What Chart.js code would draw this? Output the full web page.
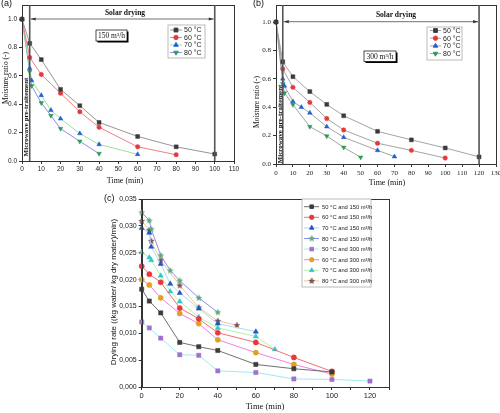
<!DOCTYPE html>
<html>
<head>
<meta charset="utf-8">
<script src="https://cdn.jsdelivr.net/npm/chart.js@4.4.1/dist/chart.umd.min.js"></script>
<style>
html, body { margin: 0; padding: 0; background: #fff; }
#wrap { position: relative; width: 500px; height: 413px; overflow: hidden; }
canvas { position: absolute; left: 0; top: 0; }
</style>
</head>
<body>
<div id="wrap">
  <canvas id="chartA" width="500" height="413"></canvas>
  <canvas id="chartB" width="500" height="413"></canvas>
  <canvas id="chartC" width="500" height="413"></canvas>
</div>
<script>
// ---- data ----
const tempLabels = ['50 °C', '60 °C', '70 °C', '80 °C'];

// (a) moisture ratio, 150 m3/h
const timeA50 = [0, 4, 10, 20, 30, 40, 60, 80, 100];
const mrA50 = [1.0, 0.83, 0.715, 0.505, 0.39, 0.272, 0.173, 0.10, 0.049];
const timeA60 = [0, 4, 10, 20, 30, 40, 60, 80];
const mrA60 = [1.0, 0.73, 0.61, 0.478, 0.347, 0.238, 0.10, 0.044];
const timeA70 = [0, 4, 5, 10, 15, 20, 30, 40, 60];
const mrA70 = [1.0, 0.654, 0.568, 0.463, 0.358, 0.298, 0.194, 0.117, 0.047];
const timeA80 = [0, 4, 5, 10, 15, 20, 30, 40];
const mrA80 = [1.0, 0.63, 0.53, 0.41, 0.32, 0.228, 0.139, 0.052];

// (b) moisture ratio, 300 m3/h
const timeB50 = [0, 4, 10, 20, 30, 40, 60, 80, 100, 120];
const mrB50 = [1.0, 0.72, 0.615, 0.51, 0.42, 0.34, 0.23, 0.17, 0.113, 0.05];
const timeB60 = [0, 4, 10, 20, 30, 40, 60, 80, 100];
const mrB60 = [1.0, 0.67, 0.54, 0.434, 0.32, 0.24, 0.146, 0.096, 0.042];
const timeB70 = [0, 4, 5, 10, 15, 20, 30, 40, 60, 70];
const mrB70 = [1.0, 0.60, 0.55, 0.44, 0.40, 0.36, 0.263, 0.188, 0.096, 0.052];
const timeB80 = [0, 4, 5, 10, 20, 30, 40, 50];
const mrB80 = [1.0, 0.566, 0.50, 0.418, 0.263, 0.197, 0.117, 0.047];

// (c) drying rate
const rateLabels = [
  '50 °C and 150 m³/h', '60 °C and 150 m³/h', '70 °C and 150 m³/h', '80 °C and 150 m³/h',
  '50 °C and 300 m³/h', '60 °C and 300 m³/h', '70 °C and 300 m³/h', '80 °C and 300 m³/h'
];
const timeC1 = [0, 4, 10, 20, 30, 40, 60, 80, 100];
const rateC1 = [0.0182, 0.0160, 0.0138, 0.0083, 0.0075, 0.0068, 0.0042, 0.0034, 0.0028];
const timeC2 = [0, 4, 10, 20, 30, 40, 60, 80, 100];
const rateC2 = [0.0225, 0.0210, 0.0195, 0.0147, 0.0127, 0.0101, 0.0083, 0.0055, 0.0029];
const timeC3 = [0, 4, 5, 10, 15, 20, 30, 40, 60];
const rateC3 = [0.0296, 0.0287, 0.0261, 0.0229, 0.0192, 0.0175, 0.0146, 0.0118, 0.0103];
const timeC4 = [0, 4, 5, 10, 15, 20, 30, 40];
const rateC4 = [0.0325, 0.0310, 0.0294, 0.0245, 0.0217, 0.0198, 0.0166, 0.0139];
const timeC5 = [0, 4, 10, 20, 30, 40, 60, 80, 100, 120];
const rateC5 = [0.0121, 0.0110, 0.0091, 0.0060, 0.0059, 0.0030, 0.0027, 0.0015, 0.0014, 0.0011];
const timeC6 = [0, 4, 10, 20, 30, 40, 60, 80, 100];
const rateC6 = [0.0200, 0.0190, 0.0166, 0.0137, 0.0118, 0.0088, 0.0064, 0.0042, 0.0024];
const timeC7 = [0, 4, 5, 10, 15, 20, 30, 40, 60, 70];
const rateC7 = [0.0251, 0.0241, 0.0236, 0.0207, 0.0178, 0.0159, 0.0130, 0.0110, 0.0094, 0.0070];
const timeC8 = [0, 4, 5, 10, 20, 30, 40, 50];
const rateC8 = [0.0309, 0.0292, 0.0272, 0.0236, 0.0189, 0.0148, 0.0123, 0.0115];

// ---- styles ----
const SANS = '"Liberation Sans", Arial, sans-serif';
const SERIF = '"Liberation Serif", "Times New Roman", serif';
const AXIS = '#333';

function starImage(color, r) {
  const c = document.createElement('canvas');
  const s = Math.ceil(r * 2 + 2);
  c.width = s; c.height = s;
  const g = c.getContext('2d');
  g.translate(s / 2, s / 2);
  g.beginPath();
  for (let i = 0; i < 10; i++) {
    const rad = i % 2 ? r * 0.45 : r;
    const ang = -Math.PI / 2 + i * Math.PI / 5;
    g.lineTo(rad * Math.cos(ang), rad * Math.sin(ang));
  }
  g.closePath();
  g.fillStyle = color;
  g.fill();
  return c;
}

function marker(shape, color, r) {
  const m = { pointBackgroundColor: color, pointBorderColor: color, pointBorderWidth: 0.5, pointRadius: r, pointHoverRadius: r };
  if (shape === 'square') { m.pointStyle = 'rect'; m.pointRadius = r * 1.25; }
  if (shape === 'circle') m.pointStyle = 'circle';
  if (shape === 'up') { m.pointStyle = 'triangle'; m.pointRadius = r * 1.2; }
  if (shape === 'down') { m.pointStyle = 'triangle'; m.pointRotation = 180; m.pointRadius = r * 1.2; }
  if (shape === 'star') { m.pointStyle = starImage(color, r * 1.4); m.pointBorderWidth = 0; }
  return m;
}

function series(label, t, v, lineColor, mk) {
  return Object.assign({
    label: label,
    data: t.map((x, i) => ({ x: x, y: v[i] })),
    borderColor: lineColor,
    borderWidth: 0.9,
    tension: 0,
    clip: false
  }, mk);
}

function fixY(width) {
  return function (s) { s.width = width; s.paddingTop = 0; s.paddingBottom = 0; };
}
function fixX(height) {
  return function (s) { s.height = height; s.paddingLeft = 0; s.paddingRight = 0; };
}

function drawText(ctx, t) {
  ctx.save();
  ctx.font = t.font;
  ctx.fillStyle = t.color || '#111';
  ctx.textAlign = t.align || 'center';
  ctx.textBaseline = 'middle';
  ctx.translate(t.x, t.y);
  if (t.rot) ctx.rotate(t.rot);
  ctx.fillText(t.text, 0, 0);
  ctx.restore();
}

function drawPhase(chart, p) {
  const { ctx, chartArea: a, scales: { x } } = chart;
  const x1 = x.getPixelForValue(p.start), x2 = x.getPixelForValue(p.end);
  ctx.save();
  ctx.strokeStyle = '#555';
  ctx.lineWidth = 1.6;
  [x1, x2].forEach(px => {
    ctx.beginPath(); ctx.moveTo(px, a.top); ctx.lineTo(px, a.bottom); ctx.stroke();
  });
  ctx.strokeStyle = '#333';
  ctx.fillStyle = '#333';
  ctx.lineWidth = 0.7;
  ctx.beginPath(); ctx.moveTo(x1 + 1, p.arrowY); ctx.lineTo(x2 - 1, p.arrowY); ctx.stroke();
  ctx.beginPath(); ctx.moveTo(x1 + 1, p.arrowY); ctx.lineTo(x1 + 6, p.arrowY - 1.6); ctx.lineTo(x1 + 6, p.arrowY + 1.6); ctx.fill();
  ctx.beginPath(); ctx.moveTo(x2 - 1, p.arrowY); ctx.lineTo(x2 - 6, p.arrowY - 1.6); ctx.lineTo(x2 - 6, p.arrowY + 1.6); ctx.fill();
  ctx.restore();
  drawText(ctx, { text: 'Solar drying', x: p.textX, y: p.textY, font: 'bold 7.5px ' + SERIF });
  drawText(ctx, { text: 'Microwave pre-traitement', x: p.mwX, y: p.mwY, font: 'bold 7px ' + SERIF, rot: -Math.PI / 2 });
}

function drawFlow(ctx, f) {
  ctx.save();
  ctx.fillStyle = '#000';
  ctx.fillRect(f.x + 1.5, f.y + 1.5, f.w, f.h);
  ctx.fillStyle = '#fff';
  ctx.fillRect(f.x, f.y, f.w, f.h);
  ctx.strokeStyle = '#000';
  ctx.lineWidth = 0.7;
  ctx.strokeRect(f.x, f.y, f.w, f.h);
  ctx.restore();
  drawText(ctx, { text: f.text, x: f.x + f.w / 2, y: f.y + f.h / 2 + 0.5, font: '7.5px ' + SERIF });
}

function drawLegend(chart, L) {
  const ctx = chart.ctx;
  ctx.save();
  ctx.fillStyle = '#fff';
  ctx.fillRect(L.box[0], L.box[1], L.box[2], L.box[3]);
  ctx.strokeStyle = '#aaa';
  ctx.lineWidth = 0.8;
  ctx.strokeRect(L.box[0], L.box[1], L.box[2], L.box[3]);
  chart.data.datasets.forEach((ds, i) => {
    const y = L.row0 + i * L.rowH;
    ctx.strokeStyle = ds.borderColor;
    ctx.lineWidth = 0.9;
    ctx.beginPath(); ctx.moveTo(L.line[0], y); ctx.lineTo(L.line[1], y); ctx.stroke();
    ctx.fillStyle = ds.pointBackgroundColor;
    ctx.strokeStyle = ds.pointBorderColor;
    if (Chart.helpers && Chart.helpers.drawPoint) {
      Chart.helpers.drawPoint(ctx, {
        pointStyle: ds.pointStyle, radius: ds.pointRadius * L.scale,
        rotation: ds.pointRotation || 0, borderWidth: ds.pointBorderWidth
      }, L.mark, y);
    }
    ctx.fillStyle = '#222';
    ctx.font = L.font;
    ctx.textAlign = 'left';
    ctx.textBaseline = 'middle';
    ctx.fillText(ds.label, L.textX, y + 0.5);
  });
  ctx.restore();
}

const deco = {
  id: 'deco',
  afterDatasetsDraw(chart, args, o) {
    const { ctx, chartArea: a } = chart;
    ctx.save();
    ctx.strokeStyle = AXIS;
    ctx.lineWidth = 1;
    ctx.strokeRect(Math.round(a.left) + 0.5, Math.round(a.top) + 0.5, Math.round(a.right - a.left), Math.round(a.bottom - a.top));
    ctx.restore();
    if (o.phase) drawPhase(chart, o.phase);
    if (o.flow) drawFlow(ctx, o.flow);
    if (o.legend) drawLegend(chart, o.legend);
    (o.texts || []).forEach(t => drawText(ctx, t));
  }
};

function xAxis(max, step, font, height, pad, cb) {
  return {
    type: 'linear', min: 0, max: max,
    afterFit: fixX(height),
    border: { color: AXIS, width: 1 },
    grid: { drawOnChartArea: false, tickLength: 3, color: AXIS },
    ticks: { stepSize: step, autoSkip: false, maxRotation: 0, padding: pad, color: '#222', font: font, callback: cb }
  };
}

function yAxis(min, max, step, font, width, cb, limit) {
  return {
    type: 'linear', min: min, max: max,
    afterFit: fixY(width),
    afterBuildTicks: s => { s.ticks = s.ticks.filter(t => t.value <= limit + 1e-9); },
    border: { color: AXIS, width: 1 },
    grid: { drawOnChartArea: false, tickLength: 3, color: AXIS },
    ticks: { stepSize: step, autoSkip: false, padding: 2, color: '#222', font: font, callback: cb }
  };
}

const baseOptions = {
  responsive: false,
  animation: false,
  events: [],
  plugins: { legend: { display: false }, tooltip: { enabled: false } }
};

// ---- (a) ----
const colorsAB = ['#3a3a3a', '#e8383d', '#1f5fd0', '#2e9a5a'];
const shapesAB = ['square', 'circle', 'up', 'down'];
const linesA = ['#8a8a8a', '#f07070', '#90e090', '#8080e8'];

new Chart(document.getElementById('chartA'), {
  type: 'line',
  data: {
    datasets: [
      series(tempLabels[0], timeA50, mrA50, linesA[0], marker(shapesAB[0], colorsAB[0], 2.2)),
      series(tempLabels[1], timeA60, mrA60, linesA[1], marker(shapesAB[1], colorsAB[1], 2.2)),
      series(tempLabels[2], timeA70, mrA70, linesA[2], marker(shapesAB[2], colorsAB[2], 2.2)),
      series(tempLabels[3], timeA80, mrA80, linesA[3], marker(shapesAB[3], colorsAB[3], 2.2))
    ]
  },
  options: Object.assign({}, baseOptions, {
    layout: { padding: { left: 0, right: 266, top: 5, bottom: 413 - 161 - 25 } },
    scales: {
      x: xAxis(110, 10, { family: SANS, size: 6.5 }, 25, 1, v => v),
      y: yAxis(0, 1.1, 0.2, { family: SANS, size: 6.5 }, 22, v => v.toFixed(1), 1.0)
    },
    plugins: Object.assign({}, baseOptions.plugins, {
      deco: {
        phase: { start: 4, end: 100, arrowY: 19, textX: 125, textY: 13, mwX: 25.8, mwY: 117 },
        flow: { x: 96, y: 30, w: 31, h: 11, text: '150 m³/h' },
        legend: { box: [168, 25, 37, 33], row0: 30, rowH: 7.5, line: [170, 182], mark: 176, textX: 184, font: '7px ' + SANS, scale: 1 },
        texts: [
          { text: '(a)', x: 1, y: 4, align: 'left', font: '9px ' + SANS },
          { text: 'Moisture ratio (-)', x: 6, y: 78, font: '7.5px ' + SERIF, rot: -Math.PI / 2 },
          { text: 'Time (min)', x: 125, y: 181, font: '8px ' + SERIF }
        ]
      }
    })
  }),
  plugins: [deco]
});

// ---- (b) ----
const lineB = '#9a9a9a';
new Chart(document.getElementById('chartB'), {
  type: 'line',
  data: {
    datasets: [
      series(tempLabels[0], timeB50, mrB50, lineB, marker(shapesAB[0], colorsAB[0], 2.2)),
      series(tempLabels[1], timeB60, mrB60, lineB, marker(shapesAB[1], colorsAB[1], 2.2)),
      series(tempLabels[2], timeB70, mrB70, lineB, marker(shapesAB[2], colorsAB[2], 2.2)),
      series(tempLabels[3], timeB80, mrB80, lineB, marker(shapesAB[3], colorsAB[3], 2.2))
    ]
  },
  options: Object.assign({}, baseOptions, {
    layout: { padding: { left: 250, right: 4, top: 5, bottom: 413 - 164 - 25 } },
    scales: {
      x: xAxis(130, 10, { family: SERIF, size: 7 }, 25, 2, v => v),
      y: yAxis(0, 1.12, 0.2, { family: SERIF, size: 7 }, 26, v => v.toFixed(1), 1.0)
    },
    plugins: Object.assign({}, baseOptions.plugins, {
      deco: {
        phase: { start: 4, end: 120, arrowY: 21.7, textX: 396, textY: 15.5, mwX: 280, mwY: 124 },
        flow: { x: 364, y: 51, w: 32, h: 10.5, text: '300 m³/h' },
        legend: { box: [427, 27, 35, 33], row0: 30.5, rowH: 7.7, line: [430, 441], mark: 435.5, textX: 443, font: '7px ' + SANS, scale: 1 },
        texts: [
          { text: '(b)', x: 253, y: 4, align: 'left', font: '9px ' + SANS },
          { text: 'Moisture ratio (-)', x: 257.5, y: 102, font: '7.5px ' + SERIF, rot: -Math.PI / 2 },
          { text: 'Time (min)', x: 387, y: 183, font: '8px ' + SERIF }
        ]
      }
    })
  }),
  plugins: [deco]
});

// ---- (c) ----
const markC = [
  marker('square', '#3c3c3c', 2.4), marker('circle', '#e8383d', 2.6), marker('up', '#1e56c8', 2.5), marker('star', '#5aa878', 2.6),
  marker('square', '#a070d0', 2.4), marker('circle', '#e0a020', 2.6), marker('up', '#30c8c8', 2.5), marker('star', '#7a5050', 2.6)
];
const linesC = ['#606060', '#f06060', '#a0d8f0', '#8080f0', '#90e8f0', '#f070e0', '#a8f0a0', '#f0c090'];
const timesC = [timeC1, timeC2, timeC3, timeC4, timeC5, timeC6, timeC7, timeC8];
const ratesC = [rateC1, rateC2, rateC3, rateC4, rateC5, rateC6, rateC7, rateC8];

new Chart(document.getElementById('chartC'), {
  type: 'line',
  data: {
    datasets: rateLabels.map((lab, i) => series(lab, timesC[i], ratesC[i], linesC[i], markC[i]))
  },
  options: Object.assign({}, baseOptions, {
    layout: { padding: { left: 100, right: 111, top: 199, bottom: 413 - 387 - 20 } },
    scales: {
      x: xAxis(130, 10, { family: SANS, size: 7.5 }, 20, 1, v => (v % 20 === 0 && v <= 120) ? v : ''),
      y: yAxis(0, 0.035, 0.005, { family: SANS, size: 7 }, 41.7, v => v.toFixed(3).replace('.', ','), 0.035)
    },
    plugins: Object.assign({}, baseOptions.plugins, {
      deco: {
        legend: { box: [302, 199, 69, 88], row0: 206.7, rowH: 10.6, line: [304, 319], mark: 311.7, textX: 322, font: '5.8px ' + SANS, scale: 0.85 },
        texts: [
          { text: '(c)', x: 104, y: 199, align: 'left', font: '9px ' + SANS },
          { text: 'Drying rate ((kg water/ kg dry mater)/min)', x: 114, y: 292, font: '8px ' + SANS, rot: -Math.PI / 2 },
          { text: 'Time (min)', x: 265, y: 407, font: '8.5px ' + SERIF }
        ]
      }
    })
  }),
  plugins: [deco]
});
</script>
</body>
</html>
